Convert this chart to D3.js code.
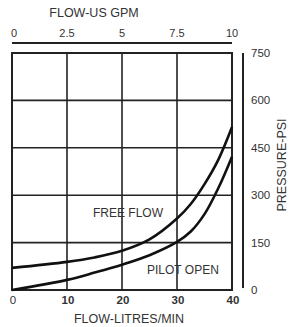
<!DOCTYPE html>
<html>
<head>
<meta charset="utf-8">
<script src="https://cdn.jsdelivr.net/npm/d3@7"></script>
<style>
  body { margin: 0; background: #fff; }
  text { font-family: "Liberation Sans", Arial, sans-serif; fill: #333; }
</style>
</head>
<body>
<div id="chart"></div>
<script>
// chart data
const flowLpm = [0, 10, 15, 20, 25, 30, 32.5, 35, 37.5, 40];
const freeFlow = [70, 89, 103, 124, 160, 226, 272, 335, 412, 516];
const pilotOpen = [0, 32, 55, 80, 110, 152, 185, 240, 322, 422];
const lpmTicks = [0, 10, 20, 30, 40];
const gpmTicks = [0, 2.5, 5, 7.5, 10];
const psiTicks = [0, 150, 300, 450, 600, 750];

const width = 290, height = 327;

const svg = d3.select('#chart')
    .append('svg')
    .attr('width', width)
    .attr('height', height);

// scales
const x = d3.scaleLinear().domain([0, 40]).range([12, 232]);
const xGpm = d3.scaleLinear().domain([0, 10]).range([12, 232]);
const y = d3.scaleLinear().domain([0, 750]).range([290, 53]);

// grid lines
svg.append('g')
    .selectAll('line')
    .data(lpmTicks.slice(1, -1))
    .join('line')
    .attr('x1', d => x(d)).attr('x2', d => x(d))
    .attr('y1', y(750)).attr('y2', y(0))
    .attr('stroke', '#222').attr('stroke-width', 1.6);

svg.append('g')
    .selectAll('line')
    .data(psiTicks.slice(1, -1))
    .join('line')
    .attr('x1', x(0)).attr('x2', x(40))
    .attr('y1', d => y(d)).attr('y2', d => y(d))
    .attr('stroke', '#222').attr('stroke-width', 1.6);

// frame
svg.append('rect')
    .attr('x', x(0)).attr('y', y(750))
    .attr('width', x(40) - x(0)).attr('height', y(0) - y(750))
    .attr('fill', 'none').attr('stroke', '#222').attr('stroke-width', 2);

// curves
const line = d3.line()
    .x(d => x(d[0]))
    .y(d => y(d[1]))
    .curve(d3.curveCatmullRom);

[freeFlow, pilotOpen].forEach(series => {
    svg.append('path')
        .datum(flowLpm.map((f, i) => [f, series[i]]))
        .attr('d', line)
        .attr('fill', 'none')
        .attr('stroke', '#111')
        .attr('stroke-width', 2.6);
});

// curve labels
svg.append('text')
    .attr('x', 93).attr('y', 217)
    .style('font-size', '12px')
    .text('FREE FLOW');
svg.append('text')
    .attr('x', 147).attr('y', 274)
    .style('font-size', '12px')
    .text('PILOT OPEN');

// top axis (US GPM)
svg.append('line')
    .attr('x1', xGpm(0)).attr('x2', xGpm(10))
    .attr('y1', 43).attr('y2', 43)
    .attr('stroke', '#222').attr('stroke-width', 2);

svg.append('g')
    .selectAll('text')
    .data(gpmTicks)
    .join('text')
    .attr('x', d => xGpm(d) + (d === 0 ? 2 : 0))
    .attr('y', 37)
    .attr('text-anchor', 'middle')
    .style('font-size', '11px')
    .text(d => d);

svg.append('text')
    .attr('x', 94).attr('y', 17)
    .attr('text-anchor', 'middle')
    .style('font-size', '12.5px')
    .text('FLOW-US GPM');

// bottom axis labels (litres/min)
svg.append('g')
    .selectAll('text')
    .data(lpmTicks)
    .join('text')
    .attr('x', d => x(d) + 1)
    .attr('y', 304)
    .attr('text-anchor', 'middle')
    .style('font-size', '11.5px')
    .style('font-weight', d => d === 0 ? 'normal' : 'bold')
    .text(d => d);

svg.append('text')
    .attr('x', 129).attr('y', 323)
    .attr('text-anchor', 'middle')
    .style('font-size', '12.5px')
    .text('FLOW-LITRES/MIN');

// right pressure axis
svg.append('line')
    .attr('x1', 243).attr('x2', 243)
    .attr('y1', y(750)).attr('y2', y(0) - 2)
    .attr('stroke', '#222').attr('stroke-width', 2);

svg.append('g')
    .selectAll('text')
    .data(psiTicks)
    .join('text')
    .attr('x', 251)
    .attr('y', d => y(d) + 4)
    .style('font-size', '11.5px')
    .text(d => d);

svg.append('text')
    .attr('transform', 'translate(286,165) rotate(-90)')
    .attr('text-anchor', 'middle')
    .style('font-size', '12.5px')
    .text('PRESSURE-PSI');
</script>
</body>
</html>
